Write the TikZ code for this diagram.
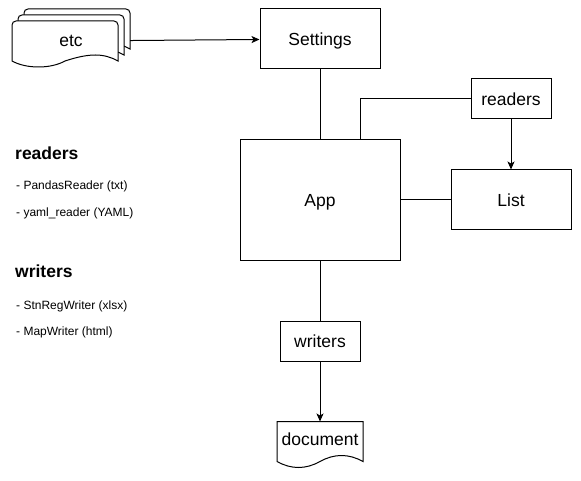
\documentclass[tikz,border=0pt]{standalone}
\usepackage{fontspec}
\setmainfont{Liberation Sans}
\usetikzlibrary{positioning,arrows.meta}

\begin{document}
\begin{tikzpicture}[
        x=1pt, y=-1pt,
        box/.style={rectangle, draw, line width=1pt, fill=white, inner sep=0pt, text depth=0pt, font=\fontsize{17.5}{20}\selectfont},
        txt/.style={inner sep=0pt, text depth=0pt, font=\fontsize{17.5}{20}\selectfont},
        head/.style={anchor=west, inner sep=0pt, font=\fontsize{17.5}{20}\selectfont\bfseries},
        item/.style={anchor=west, inner sep=0pt, font=\fontsize{12}{14}\selectfont},
        page/.style={draw, line width=1pt, fill=white},
        arr/.style={line width=1pt, -{Stealth[length=8pt,width=7pt,inset=2pt]}},
        con/.style={line width=1pt}
    ]
    \useasboundingbox (0,0) rectangle (581,481);

    % the stack of pages
    \foreach \d in {12,6,0}
        \draw[page, shift={(\d,-\d)}, rounded corners=4pt]
            (12,61) -- (12,21) -- (118,21) -- (118,40) [sharp corners] -- (118,61)
            .. controls (103.67,53) and (89.33,53) .. (65,61)
            .. controls (50.67,69) and (26.33,69) .. (12,61) -- cycle;
    \node[txt, minimum width=118pt, minimum height=45pt] (etc) at (71,41) {etc};

    \node[box, minimum width=160pt, minimum height=120pt] (app) at (320,200) {App};
    \node[box, minimum width=120pt, minimum height=60pt]  (settings) [above=70pt of app] {Settings};
    \node[box, minimum width=120pt, minimum height=60pt]  (list)     [right=50pt of app] {List};
    \node[box, minimum width=80pt,  minimum height=40pt]  (rdr)      [above=50pt of list] {readers};
    \node[box, minimum width=80pt,  minimum height=40pt]  (wrt)      [below=60pt of app] {writers};
    \node[txt, minimum width=86pt,  minimum height=34pt]  (doc)      [below=60pt of wrt] {document};

    % document outline
    \draw[page, shift={(doc.north)}]
        (-43,0) -- (43,0) -- (43,40)
        .. controls (28.67,32) and (14.33,32) .. (0,40)
        .. controls (-14.33,48) and (-28.67,48) .. (-43,40) -- cycle;
    \node[txt] at (doc) {document};

    \draw[arr] (etc) -- (settings);
    \draw[con] (settings) -- (app);
    \draw[con] (app) -- (list);
    \draw[con] (rdr.west) -| ([xshift=40pt]app.north);
    \draw[arr] (rdr) -- (list);
    \draw[con] (app) -- (wrt);
    \draw[arr] (wrt) -- (doc);

    % legend on the left
    \node[head] (hr)  at (15,153) {readers};
    \node[item] (ir1) at (16,186) {- PandasReader (txt)};
    \node[item] (ir2) at (16,213) {- yaml\_reader (YAML)};
    \node[head] (hw)  at (15,271) {writers};
    \node[item] (iw1) at (16,306) {- StnRegWriter (xlsx)};
    \node[item] (iw2) at (16,332) {- MapWriter (html)};
\end{tikzpicture}
\end{document}
